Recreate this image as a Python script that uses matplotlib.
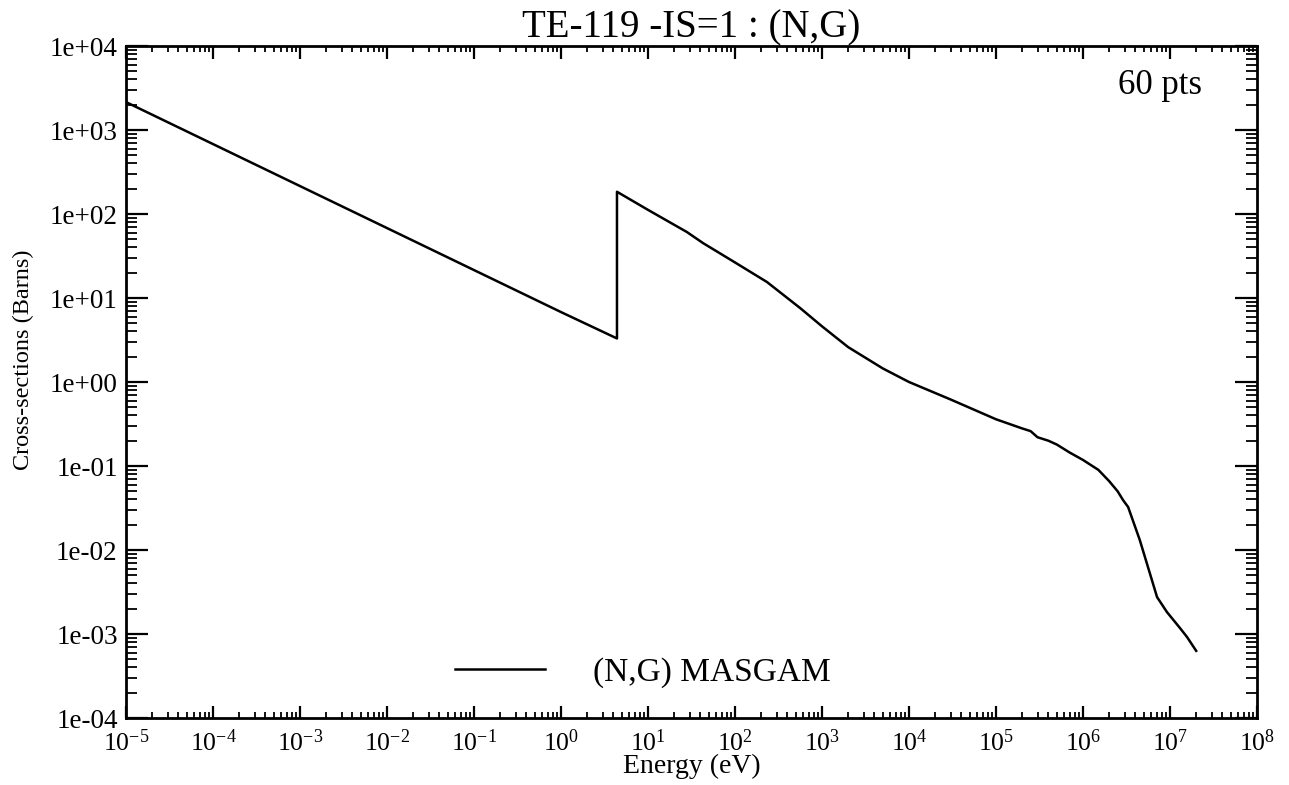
import matplotlib
matplotlib.use("Agg")
import matplotlib.pyplot as plt
from matplotlib.ticker import LogLocator, NullFormatter, FixedLocator

plt.rcParams['font.family'] = ['Liberation Serif', 'DejaVu Serif']
plt.rcParams['mathtext.fontset'] = 'custom'
plt.rcParams['mathtext.rm'] = 'Liberation Serif'
plt.rcParams['mathtext.it'] = 'Liberation Serif:italic'

# ---- data ----
energy_eV = [1e-5, 1e-4, 1e-3, 1e-2, 1e-1, 1.0, 4.4, 4.4, 10, 28, 43, 100, 233, 560,
             1000, 2000, 5000, 1e4, 3e4, 1e5, 2e5, 2.5e5, 3e5, 4e5, 5e5, 7e5, 1e6,
             1.5e6, 2e6, 2.5e6, 2.9e6, 3.3e6, 4.5e6, 7.1e6, 9.2e6, 1.3e7, 1.57e7, 2e7]
xs_barns = [2150, 680, 215, 68, 21.5, 6.8, 3.3, 184, 112, 61, 45, 26.5, 15.5, 7.6,
            4.6, 2.6, 1.45, 1.0, 0.62, 0.36, 0.28, 0.26, 0.22, 0.20, 0.18, 0.145, 0.118,
            0.09, 0.066, 0.05, 0.039, 0.0325, 0.0131, 0.00275, 0.00183, 0.00118, 0.00092, 0.00063]

x_exponents = list(range(-5, 9))
y_exponents = list(range(-4, 5))
y_tick_labels = ["1e-04", "1e-03", "1e-02", "1e-01", "1e+00", "1e+01", "1e+02", "1e+03", "1e+04"]
title = "TE-119 -IS=1 : (N,G)"
legend_label = "(N,G) MASGAM"
npts_label = "60 pts"

fig = plt.figure(figsize=(12.89, 7.85), dpi=100)
ax = fig.add_axes([126/1289, 1-718/785, (1257-126)/1289, (718-46)/785])

ax.plot(energy_eV, xs_barns, color='black', lw=1.8, label=legend_label)
ax.set_xscale('log')
ax.set_yscale('log')
ax.set_xlim(1e-5, 1e8)
ax.set_ylim(1e-4, 1e4)

ax.xaxis.set_major_locator(FixedLocator([10.0**e for e in x_exponents]))
ax.set_xticklabels([r'$\mathregular{10^{%d}}$' % e for e in x_exponents])
ax.yaxis.set_major_locator(FixedLocator([10.0**e for e in y_exponents]))
ax.set_yticklabels(y_tick_labels)
ax.xaxis.set_minor_locator(LogLocator(base=10, subs=range(2, 10), numticks=100))
ax.yaxis.set_minor_locator(LogLocator(base=10, subs=range(2, 10), numticks=100))
ax.xaxis.set_minor_formatter(NullFormatter())
ax.yaxis.set_minor_formatter(NullFormatter())

ax.tick_params(axis='x', which='major', direction='in', length=9, width=1.6,
               top=True, bottom=True, labelsize=18.5, pad=8)
ax.tick_params(axis='x', which='minor', direction='in', length=4.5, width=1.3,
               top=True, bottom=True)
ax.tick_params(axis='y', which='major', direction='in', length=16, width=1.6,
               left=True, right=True, labelsize=19.5, pad=6)
ax.tick_params(axis='y', which='minor', direction='in', length=8, width=1.3,
               left=True, right=True)
for s in ax.spines.values():
    s.set_linewidth(2.0)

ax.set_title(title, fontsize=28, pad=6)
ax.set_xlabel("Energy (eV)", fontsize=20, labelpad=-1)
fig.text(23/1289, 1-360/785, "Cross-sections (Barns)", rotation=90,
         fontsize=17.5, ha='center', va='center')

ax.text((1202-126)/1131, (718-94)/672, npts_label, ha='right', va='baseline',
        fontsize=25, transform=ax.transAxes)

ax.legend(loc='center left', bbox_to_anchor=(455/1289, 1-673/785),
          bbox_transform=fig.transFigure, frameon=False, fontsize=24,
          handlelength=2.7, handletextpad=1.45, borderpad=0, borderaxespad=0)

fig.savefig("out.png", dpi=100)
